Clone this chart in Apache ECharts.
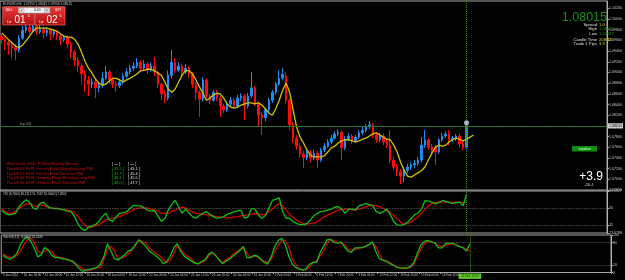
<!DOCTYPE html>
<html><head><meta charset="utf-8">
<script src="https://cdn.jsdelivr.net/npm/echarts@6/dist/echarts.min.js"></script>
<style>html,body{margin:0;padding:0;background:#000;}#c{width:625px;height:280px;}</style>
</head><body><div id="c"></div>
<script>
// ---------- DATA ----------
const timeLabels = ['9 Jan 2024','10 Jan 20:00','12 Jan 04:00','15 Jan 12:00','16 Jan 20:00','18 Jan 04:00','19 Jan 12:00','22 Jan 20:00','24 Jan 04:00','25 Jan 12:00','26 Jan 20:00','30 Jan 04:00','31 Jan 12:00','1 Feb 20:00','5 Feb 04:00','6 Feb 12:00','7 Feb 20:00','9 Feb 04:00','12 Feb 12:00','13 Feb 20:00','15 Feb 04:00','16 Feb 12:00'];
const currentTimeLabel = '21 Feb 12:00';
const barsPerLabel = 6;
const totalSlots = 175;

// [open, close, low, high]
const candles = [
[1.0968,1.0961,1.0953,1.0972],[1.0961,1.0957,1.0942,1.0966],[1.0957,1.0951,1.0933,1.0961],[1.0951,1.0946,1.0927,1.0955],[1.0946,1.0942,1.0923,1.0953],
[1.0942,1.0964,1.0938,1.0970],[1.0964,1.0979,1.0961,1.0987],[1.0979,1.0985,1.0974,1.0994],[1.0985,1.0977,1.0972,1.0989],[1.0977,1.0987,1.0974,1.0994],
[1.0987,1.0976,1.0970,1.0990],[1.0976,1.0981,1.0972,1.0989],[1.0981,1.0974,1.0964,1.0985],[1.0974,1.0979,1.0968,1.0985],[1.0979,1.0972,1.0961,1.0983],
[1.0972,1.0976,1.0966,1.0981],[1.0976,1.0968,1.0961,1.0979],[1.0968,1.0961,1.0951,1.0974],[1.0961,1.0966,1.0957,1.0970],[1.0966,1.0953,1.0946,1.0970],
[1.0953,1.0938,1.0927,1.0957],[1.0938,1.0923,1.0912,1.0942],[1.0923,1.0912,1.0901,1.0929],[1.0912,1.0897,1.0878,1.0917],[1.0897,1.0886,1.0863,1.0904],
[1.0886,1.0878,1.0856,1.0893],[1.0878,1.0882,1.0871,1.0889],[1.0882,1.0871,1.0852,1.0886],[1.0871,1.0876,1.0863,1.0882],[1.0876,1.0889,1.0871,1.0901],
[1.0889,1.0901,1.0886,1.0912],[1.0901,1.0886,1.0878,1.0904],[1.0886,1.0878,1.0871,1.0891],[1.0878,1.0875,1.0863,1.0884],[1.0875,1.0882,1.0871,1.0888],
[1.0882,1.0893,1.0878,1.0899],[1.0893,1.0901,1.0889,1.0908],[1.0901,1.0908,1.0897,1.0914],[1.0908,1.0912,1.0903,1.0919],[1.0912,1.0919,1.0908,1.0927],
[1.0919,1.0908,1.0901,1.0923],[1.0908,1.0916,1.0904,1.0923],[1.0916,1.0904,1.0897,1.0919],[1.0904,1.0912,1.0901,1.0919],[1.0912,1.0901,1.0893,1.0929],
[1.0901,1.0878,1.0871,1.0904],[1.0878,1.0860,1.0848,1.0882],[1.0860,1.0852,1.0843,1.0867],[1.0852,1.0895,1.0848,1.0904],[1.0895,1.0919,1.0889,1.0942],
[1.0919,1.0904,1.0899,1.0927],[1.0904,1.0912,1.0901,1.0919],[1.0912,1.0901,1.0893,1.0916],[1.0901,1.0908,1.0897,1.0916],[1.0908,1.0897,1.0889,1.0912],
[1.0897,1.0878,1.0871,1.0901],[1.0878,1.0863,1.0848,1.0882],[1.0863,1.0850,1.0817,1.0867],[1.0850,1.0886,1.0846,1.0891],[1.0886,1.0856,1.0852,1.0889],
[1.0856,1.0848,1.0841,1.0860],[1.0848,1.0863,1.0845,1.0867],[1.0863,1.0852,1.0846,1.0867],[1.0852,1.0837,1.0817,1.0856],[1.0837,1.0830,1.0824,1.0841],
[1.0830,1.0841,1.0826,1.0845],[1.0841,1.0848,1.0837,1.0854],[1.0848,1.0837,1.0832,1.0852],[1.0837,1.0852,1.0833,1.0858],[1.0852,1.0856,1.0846,1.0861],
[1.0856,1.0837,1.0811,1.0860],[1.0837,1.0856,1.0833,1.0861],[1.0856,1.0871,1.0852,1.0901],[1.0871,1.0841,1.0837,1.0875],[1.0841,1.0820,1.0798,1.0845],
[1.0820,1.0815,1.0783,1.0826],[1.0815,1.0830,1.0809,1.0833],[1.0830,1.0848,1.0826,1.0852],[1.0848,1.0863,1.0843,1.0867],[1.0863,1.0878,1.0858,1.0882],
[1.0878,1.0889,1.0875,1.0904],[1.0889,1.0897,1.0886,1.0908],[1.0893,1.0848,1.0841,1.0901],[1.0848,1.0802,1.0792,1.0852],[1.0802,1.0777,1.0768,1.0807],
[1.0777,1.0762,1.0755,1.0783],[1.0762,1.0747,1.0740,1.0768],[1.0747,1.0740,1.0721,1.0753],[1.0740,1.0751,1.0736,1.0755],[1.0751,1.0740,1.0732,1.0755],
[1.0740,1.0749,1.0736,1.0755],[1.0749,1.0736,1.0721,1.0753],[1.0736,1.0755,1.0732,1.0759],[1.0755,1.0762,1.0751,1.0768],[1.0762,1.0770,1.0759,1.0775],
[1.0770,1.0777,1.0766,1.0783],[1.0777,1.0785,1.0774,1.0790],[1.0785,1.0788,1.0781,1.0794],[1.0788,1.0759,1.0736,1.0792],[1.0759,1.0775,1.0755,1.0781],
[1.0775,1.0781,1.0772,1.0787],[1.0781,1.0772,1.0766,1.0785],[1.0772,1.0779,1.0768,1.0783],[1.0779,1.0787,1.0775,1.0792],[1.0787,1.0792,1.0783,1.0798],
[1.0792,1.0798,1.0788,1.0803],[1.0798,1.0802,1.0794,1.0809],[1.0802,1.0783,1.0777,1.0805],[1.0783,1.0774,1.0768,1.0788],[1.0774,1.0781,1.0770,1.0787],
[1.0781,1.0770,1.0764,1.0785],[1.0770,1.0764,1.0759,1.0775],[1.0764,1.0736,1.0730,1.0792],[1.0736,1.0723,1.0717,1.0742],[1.0723,1.0714,1.0706,1.0729],
[1.0714,1.0706,1.0691,1.0719],[1.0706,1.0717,1.0695,1.0723],[1.0717,1.0723,1.0712,1.0729],[1.0723,1.0727,1.0717,1.0732],[1.0727,1.0730,1.0721,1.0736],
[1.0730,1.0736,1.0725,1.0742],[1.0736,1.0764,1.0732,1.0779],[1.0764,1.0774,1.0759,1.0792],[1.0774,1.0760,1.0755,1.0777],[1.0760,1.0755,1.0749,1.0766],
[1.0759,1.0751,1.0727,1.0764],[1.0751,1.0774,1.0747,1.0777],[1.0774,1.0781,1.0770,1.0787],[1.0781,1.0785,1.0777,1.0790],[1.0785,1.0774,1.0764,1.0792],
[1.0774,1.0777,1.0770,1.0781],[1.0777,1.0781,1.0772,1.0785],[1.0781,1.0766,1.0760,1.0785],[1.0766,1.0760,1.0755,1.0772],[1.0760,1.08015,1.0757,1.0805]
];

const maValues = [
1.0974,1.0968,1.0961,1.0955,1.0949,1.0947,1.0951,1.0959,1.0968,1.0977,
1.0983,1.0983,1.0983,1.0983,1.0981,1.0979,1.0977,1.0972,1.0968,1.0966,
1.0966,1.0962,1.0953,1.0938,1.0921,1.0908,1.0899,1.0888,1.0880,1.0876,
1.0878,1.0884,1.0889,1.0889,1.0886,1.0882,1.0886,1.0889,1.0893,1.0897,
1.0903,1.0904,1.0906,1.0906,1.0903,1.0899,1.0895,1.0882,1.0869,1.0863,
1.0869,1.0882,1.0895,1.0904,1.0903,1.0897,1.0886,1.0873,1.0861,1.0848,
1.0852,1.0858,1.0861,1.0860,1.0852,1.0841,1.0835,1.0833,1.0835,1.0839,
1.0841,1.0843,1.0843,1.0841,1.0843,1.0839,1.0832,1.0824,1.0820,1.0832,
1.0848,1.0867,1.0880,1.0863,1.0830,1.0798,1.0779,1.0768,1.0755,1.0745,
1.0742,1.0742,1.0742,1.0744,1.0751,1.0759,1.0762,1.0768,1.0772,1.0774,
1.0774,1.0772,1.0770,1.0772,1.0775,1.0777,1.0781,1.0785,1.0787,1.0783,
1.0779,1.0775,1.0774,1.0764,1.0751,1.0732,1.0717,1.0706,1.0704,1.0708,
1.0712,1.0716,1.0723,1.0736,1.0749,1.0760,1.0764,1.0762,1.0764,1.0770,
1.0774,1.0777,1.0775,1.0772,1.0775,1.0779,1.0783
];

const tdiPrice = [
47.5,44.5,42.8,43.4,44.5,51.3,55.7,58.8,56.4,50.3,
48.6,54.7,56.4,52.3,50.3,49.6,49.6,48.9,47.9,46.9,
46.2,40.7,33.2,28.1,26.4,29.8,31.1,32.5,35.9,41.0,
44.5,37.6,35.9,40.7,44.5,45.2,46.2,49.6,53.0,52.3,
52.3,50.3,47.9,46.9,47.5,42.1,35.9,38.7,47.9,53.7,
58.1,51.3,44.5,48.9,44.5,41.0,39.3,42.1,44.5,46.2,
43.4,41.0,39.3,40.0,41.0,43.4,44.8,46.2,47.2,47.5,
39.3,40.7,49.6,48.9,42.8,39.3,42.1,49.6,58.1,59.2,
60.9,46.2,39.3,39.3,35.9,33.9,32.5,32.5,33.5,37.6,
42.1,44.5,46.2,46.9,47.9,48.9,50.9,51.6,48.9,44.5,
48.9,48.9,48.2,52.3,53.7,54.7,53.7,52.3,46.2,44.5,
46.2,48.9,43.4,35.9,32.2,31.8,32.9,34.9,38.7,42.8,
44.8,48.9,57.8,57.4,56.4,54.4,55.7,58.1,57.1,56.1,
54.7,55.7,56.4,52.3,64.6
];
const tdiSignal = [
48.9,46.2,44.5,44.8,46.2,49.6,52.3,54.4,54.7,53.0,
51.6,53.7,53.0,51.3,50.3,49.6,49.6,48.9,48.6,47.9,
46.9,44.8,41.0,35.9,31.8,29.1,29.8,31.1,32.5,34.9,
37.6,38.7,39.3,40.0,41.0,42.8,44.5,46.2,48.6,49.6,
50.3,50.3,50.3,48.9,47.9,46.9,44.5,44.5,44.5,46.2,
47.9,49.6,50.9,50.3,47.5,46.2,44.5,44.1,43.4,42.8,
42.4,41.7,41.0,40.4,40.0,39.7,40.0,40.7,41.0,41.7,
42.4,42.8,43.4,44.1,43.8,42.8,43.4,46.2,48.9,52.3,
54.7,52.0,47.9,43.4,40.0,37.3,35.2,33.5,33.2,33.5,
34.2,35.9,38.3,41.0,42.8,44.5,46.2,47.9,48.6,48.9,
48.9,48.2,47.9,48.9,50.3,51.6,52.7,53.0,52.3,51.3,
49.6,47.5,45.5,42.1,38.7,35.2,33.2,33.5,35.2,38.3,
41.0,44.5,48.9,52.3,54.7,55.7,56.4,56.4,56.4,56.4,
56.4,56.4,56.1,55.7,56.4
];
const stochK = [
45.7,39.7,35.4,41.4,50.9,74.1,88.7,94.7,82.7,65.5,
41.4,48.3,66.4,59.5,45.7,39.7,39.7,37.1,35.4,32.8,
29.4,19.9,9.6,2.7,7.0,8.7,11.3,13.9,22.5,44.0,
76.7,56.9,37.1,33.7,40.6,48.3,57.8,61.2,74.1,87.0,
78.4,69.8,56.9,50.9,44.0,35.4,23.4,29.4,44.0,65.5,
76.7,56.9,44.0,37.1,31.1,25.1,23.4,29.4,33.7,48.3,
54.3,45.7,33.7,23.4,30.2,35.4,44.0,50.9,59.5,69.8,
39.7,39.7,45.7,44.0,35.4,26.8,22.5,42.3,69.8,85.3,
91.3,74.1,44.0,22.5,13.9,9.6,6.2,9.6,22.5,26.8,
26.8,52.6,69.8,87.0,88.7,80.1,78.4,81.8,68.1,56.9,
54.3,65.5,65.5,66.4,69.8,74.1,81.8,56.9,37.1,32.8,
29.4,24.2,19.9,13.9,12.2,11.3,12.2,16.5,28.5,52.6,
74.1,83.6,85.3,81.8,78.4,65.5,65.5,76.7,78.4,78.4,
73.2,68.9,66.4,56.9,76.7
];
const stochD = [
50.9,44.0,40.6,39.7,45.7,56.9,74.1,87.0,92.2,80.1,
56.9,52.6,56.0,61.2,56.0,44.0,40.6,38.8,36.3,33.7,
29.4,23.4,16.5,7.9,5.3,7.0,8.7,12.2,13.9,35.4,
61.2,69.8,56.9,37.1,38.8,42.3,50.9,59.5,71.5,87.0,
82.7,78.4,65.5,57.8,50.9,44.0,33.7,26.8,33.7,50.9,
71.5,61.2,50.9,42.3,37.1,26.8,22.5,26.8,31.1,44.0,
52.6,45.7,35.4,26.8,33.7,39.7,48.3,54.3,61.2,65.5,
52.6,39.7,44.0,42.3,33.7,30.2,26.8,35.4,56.9,71.5,
87.0,85.3,69.8,35.4,22.5,9.6,7.9,7.9,13.9,26.8,
30.2,44.0,56.9,76.7,88.7,85.3,80.1,78.4,74.1,62.9,
58.6,61.2,64.6,66.4,68.1,74.1,79.3,69.8,48.3,33.7,
30.2,26.8,19.9,15.6,12.2,12.2,12.2,13.0,23.4,44.0,
63.8,78.4,82.7,81.8,78.4,71.5,69.8,71.5,75.0,76.7,
74.1,69.8,66.4,62.9,56.0
];

const bidPrice = 1.08015;
const orderPrice = 1.0795;
const priceMin = 1.068, priceMax = 1.10337, priceStep = 0.002;
const tdiMin = 23.6798, tdiMax = 68.0827;
const tdiLevels = [23.6798, 32, 50, 68.0827];
const tdiDotted = [50, 32];
const stochLevels = [0, 20, 80, 100];
const stochDotted = [80, 20];

const titleText = 'EURUSD,H4  1.07959 1.08043 1.07958 1.08015';
const tdiTitle = 'TDI (9,7000) 49.2112 51.7567 55.0000 57.2802';
const stochTitle = 'Stoch(8,3,3) 76.6824 56.0146';
const infoLabels = ['Spread','High','Low','Candle Time','Trade 1 Pips'];
const infoValues = ['1.0','1.08034','1.07917','208:43','3.9'];
const infoColors = ['#d8d800','#178f17','#178f17','#d8d800','#d8d800'];
const newsEvents = ['Wed 20:00  USD  FOMC Meeting Minutes','Thu 08:15  EUR  French Flash Manufacturing PMI','Thu 08:15  EUR  French Flash Services PMI','Thu 08:30  EUR  German Flash Manufacturing PMI','Thu 08:30  EUR  German Flash Services PMI'];
const newsForecast = ['[ --- ]','[ 43.5 ]','[ 45.7 ]','[ 46.1 ]','[ 48.0 ]'];
const newsPrevious = ['[ --- ]','[ 43.1 ]','[ 45.4 ]','[ 45.5 ]','[ 47.7 ]'];

// ---------- BUILD ----------
const categories = Array.from({length: totalSlots}, (_, i) => 'b' + i);
const lastIdx = candles.length - 1;
const FONT = '"Liberation Sans", Arial, sans-serif';
const AX = '#c8c8c8';

function txt(text, x, y, size, fill, align, weight) {
  return {type:'text', x:x, y:y, z:100, silent:true,
    style:{text:text, fontSize:size, fontFamily:FONT, fill:fill, fontWeight:weight||'normal',
      textAlign:align||'left', textVerticalAlign:'middle', align:align||'left', verticalAlign:'middle'}};
}
function rect(x,y,w,h,fill,stroke,lw){
  return {type:'rect', z:99, silent:true, shape:{x:x,y:y,width:w,height:h}, style:{fill:fill, stroke:stroke||null, lineWidth:lw||0.6}};
}
const redGrad = () => new echarts.graphic.LinearGradient(0,0,0,1,[{offset:0,color:'#ec3a3a'},{offset:1,color:'#b00d0d'}]);

const graphics = [];
graphics.push(txt(titleText, 3, 4.5, 3.2, '#c8c8c8'));
graphics.push(rect(2.7,6.7,31.6,18.3,redGrad(),'#ff7a7a',0.6));
graphics.push(rect(35,6.7,30,18.3,redGrad(),'#ff7a7a',0.6));
graphics.push(rect(18.3,7.4,31.7,5.8,'#f2f2f2','#7a7a7a',0.5));
graphics.push(rect(19,8,5,4.6,'#dcdcdc','#909090',0.4));
graphics.push(rect(44.3,8,5,4.6,'#dcdcdc','#909090',0.4));
graphics.push(txt('-', 21.5, 10.2, 4, '#000', 'center'));
graphics.push(txt('0.01', 37.5, 10.3, 3.4, '#000', 'center'));
graphics.push(txt('+', 46.8, 10.2, 4, '#000', 'center'));
graphics.push(txt('SELL', 5.5, 10.2, 3, '#ffffff'));
graphics.push(txt('BUY', 55, 10.2, 3, '#ffffff'));
graphics.push(txt('Lot', 7, 21.7, 3.2, '#ffffff'));
graphics.push(txt('01', 14.5, 19.8, 10, '#ffffff'));
graphics.push(txt('5', 27.8, 16.2, 3.6, '#ffffff'));
graphics.push(txt('Lot', 39, 21.7, 3.2, '#ffffff'));
graphics.push(txt('02', 46.5, 19.8, 10, '#ffffff'));
graphics.push(txt('5', 59.5, 16.2, 3.6, '#ffffff'));
graphics.push(txt(bidPrice.toFixed(5), 607, 17.5, 12.5, '#149414', 'right'));
const infoY = [25, 29.3, 34, 40, 44.3];
infoLabels.forEach((l, k) => {
  graphics.push(txt(l, 597, infoY[k], 4.2, '#e0e0e0', 'right'));
  graphics.push(txt(infoValues[k], 599, infoY[k], 4.2, infoColors[k], 'left'));
});
graphics.push(rect(572,146,25,5.5,'#0d8c0d',null,0));
graphics.push(txt('supdem', 584.5, 148.9, 3.4, '#d8ffd8', 'center'));
graphics.push(txt('+3.9', 603, 176.5, 12, '#ffffff', 'right'));
graphics.push(txt('-26.4', 589, 185, 4, '#c8c8c8', 'center'));
graphics.push(txt('buy 0.01', 20, 123.8, 3, '#a0a0a0'));
const newsY = [164.3, 169, 173.7, 178.3, 183.2];
newsEvents.forEach((e, k) => {
  graphics.push(txt(e, 6.5, newsY[k], 3.9, '#d41010'));
  graphics.push(txt(newsForecast[k], 112, newsY[k], 3.9, k === 0 ? '#e0e0e0' : '#10c010'));
  graphics.push(txt(newsPrevious[k], 128, newsY[k], 3.9, '#e0e0e0'));
});
graphics.push(txt(tdiTitle, 3, 193.8, 3, '#d0d0d0'));
graphics.push(txt(stochTitle, 3, 237.6, 3, '#d0d0d0'));

const xBase = (gi) => ({type:'category', gridIndex:gi, data:categories, boundaryGap:true,
  axisLine:{show:false}, axisTick:{show:false}, axisLabel:{show:false}, splitLine:{show:false}, axisPointer:{show:false}});
const xAxes = [xBase(0), xBase(1), xBase(2)];
xAxes[2].axisLabel = {show:true, interval:0, align:'left', fontSize:3, fontFamily:FONT, color:AX, margin:1.5,
  formatter:(v, i) => (i % barsPerLabel === 0 && timeLabels[i / barsPerLabel]) ? timeLabels[i / barsPerLabel] : ''};
xAxes[2].axisTick = {show:true, length:1.5, lineStyle:{color:'#b0b0b0'},
  interval:(i) => i % barsPerLabel === 0 && i / barsPerLabel < timeLabels.length};

const yLabel = {fontSize:3.6, fontFamily:FONT, color:AX, margin:2};
const yAxes = [
  {type:'value', gridIndex:0, position:'right', min:priceMin, max:priceMax, interval:priceStep, scale:true,
   axisLine:{show:true, lineStyle:{color:'#b0b0b0'}}, axisTick:{show:true, length:2, lineStyle:{color:'#b0b0b0'}},
   axisLabel:Object.assign({}, yLabel, {formatter:v => v.toFixed(5), showMaxLabel:false}), splitLine:{show:false}},
  {type:'value', gridIndex:1, position:'right', min:tdiMin, max:tdiMax,
   axisLine:{show:true, lineStyle:{color:'#b0b0b0'}}, axisTick:{show:true, length:2, customValues:tdiLevels, lineStyle:{color:'#b0b0b0'}},
   axisLabel:Object.assign({}, yLabel, {customValues:tdiLevels, formatter:v => Number.isInteger(v) ? String(v) : v.toFixed(4)}), splitLine:{show:false}},
  {type:'value', gridIndex:2, position:'right', min:0, max:100,
   axisLine:{show:true, lineStyle:{color:'#b0b0b0'}}, axisTick:{show:true, length:2, customValues:stochLevels, lineStyle:{color:'#b0b0b0'}},
   axisLabel:Object.assign({}, yLabel, {customValues:stochLevels}), splitLine:{show:false}}
];

const vLine = (color) => ({xAxis: categories[lastIdx], lineStyle:{color:color, type:'dotted', width:1}, label:{show:false}});
const dotted = (vals) => vals.map(v => ({yAxis:v, lineStyle:{color:'#6a6a6a', type:'dotted', width:0.8}, label:{show:false}}));

const option = {
  backgroundColor:'#000',
  animation:false,
  graphic:{elements:graphics},
  grid:[
    {left:0, width:611, top:1, height:189, show:true, borderColor:'#a8a8a8', borderWidth:1},
    {left:0, width:611, top:191, height:42, show:true, borderColor:'#a8a8a8', borderWidth:1},
    {left:0, width:611, top:235, height:37.5, show:true, borderColor:'#a8a8a8', borderWidth:1}
  ],
  xAxis:xAxes,
  yAxis:yAxes,
  series:[
    {type:'candlestick', xAxisIndex:0, yAxisIndex:0, data:candles, barWidth:2,
     itemStyle:{color:'#1e8cf0', color0:'#ff0a0a', borderColor:'#1e8cf0', borderColor0:'#ff0a0a', borderWidth:1},
     markLine:{silent:true, symbol:['none','none'], animation:false, data:[
       {yAxis:bidPrice, lineStyle:{color:'#5a5a5a', type:'solid', width:1},
        label:{show:true, position:'end', distance:1, formatter:bidPrice.toFixed(5), backgroundColor:'#d0d0d0', color:'#000', fontSize:3.6, fontFamily:FONT, padding:[0.6,1]}},
       {yAxis:orderPrice, lineStyle:{color:'#0a7f0a', type:[5,3,1,3], width:0.8}, label:{show:false}},
       vLine('#3f8a00')
     ]},
     markPoint:{silent:true, animation:false, data:[{coord:[categories[lastIdx], 1.0806], symbol:'circle', symbolSize:5, itemStyle:{color:'#a8b4c0'}, label:{show:false}}]}
    },
    {type:'line', xAxisIndex:0, yAxisIndex:0, data:maValues, symbol:'none', lineStyle:{color:'#d2c400', width:1.3}, z:3},
    {type:'line', xAxisIndex:1, yAxisIndex:1, data:tdiSignal, symbol:'none', lineStyle:{color:'#d80000', width:1.3},
     markLine:{silent:true, symbol:['none','none'], animation:false, data:dotted(tdiDotted).concat([vLine('#3f8a00')])}},
    {type:'line', xAxisIndex:1, yAxisIndex:1, data:tdiPrice, symbol:'none', lineStyle:{color:'#10c010', width:1.3}},
    {type:'line', xAxisIndex:2, yAxisIndex:2, data:stochD, symbol:'none', lineStyle:{color:'#d80000', width:1.3},
     markLine:{silent:true, symbol:['none','none'], animation:false, data:dotted(stochDotted).concat([
       {xAxis:categories[lastIdx], lineStyle:{color:'#3f8a00', type:'dotted', width:1},
        label:{show:true, position:'start', formatter:currentTimeLabel, backgroundColor:'#62c62a', color:'#103000', fontSize:3, fontFamily:FONT, padding:[1.2,2.5], distance:1}}])}},
    {type:'line', xAxisIndex:2, yAxisIndex:2, data:stochK, symbol:'none', lineStyle:{color:'#10c010', width:1.3}}
  ]
};
const chart = echarts.init(document.getElementById('c'), null, {renderer:'canvas'});
chart.setOption(option);
</script></body></html>
